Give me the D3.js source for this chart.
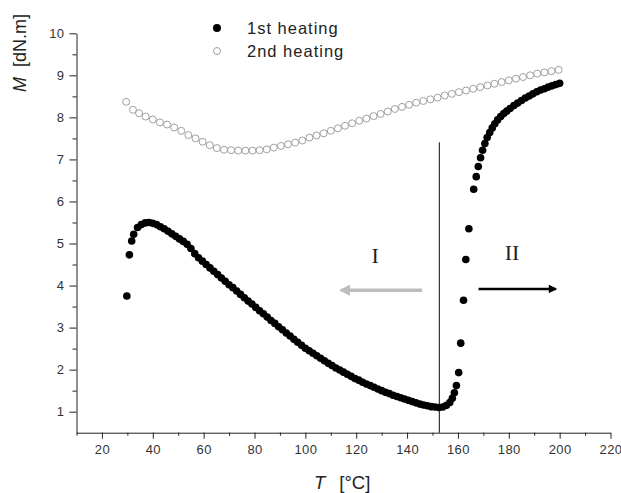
<!DOCTYPE html>
<html>
<head>
<meta charset="utf-8">
<script src="https://cdn.jsdelivr.net/npm/d3@7"></script>
<style>
  body { margin: 0; background: #fff; }
  svg { display: block; font-family: Arial, "Liberation Sans", sans-serif; }
  .axis path, .axis line { stroke: #222; }
  .axis text { fill: #333; font-size: 13px; letter-spacing: 0.4px; }
</style>
</head>
<body>
<div class="chart"></div>
<script>
// 1st heating (filled points), temperature in °C and torque in dN.m
var temp1 = [29.8, 30.8, 31.7, 32.5, 34, 35.5, 37, 38.5, 40, 41.5, 43, 44.5, 46, 47.5, 49, 50.5,
  52, 53.5, 55, 56.5, 58, 59.5, 61, 62.5, 64, 65.5, 67, 68.5, 70, 71.5, 73, 74.5, 76, 77.5,
  79, 80.5, 82, 83.5, 85, 86.5, 88, 89.5, 91, 92.5, 94, 95.5, 97, 98.5, 100, 101.5, 103,
  104.5, 106, 107.5, 109, 110.5, 112, 113.5, 115, 116.5, 118, 119.5, 121, 122.5, 124, 125.5,
  127, 128.5, 130, 131.5, 133, 134.5, 136, 137.5, 139, 140.5, 142, 143.5, 145, 146.5, 148,
  149.5, 151, 152.5, 154, 155.5, 156.8, 157.8, 158.6, 159.4, 160.3, 161.1, 162.2, 163.1,
  164.3, 166.2, 167.2, 168, 168.9, 169.7, 170.6, 171.5, 172.5, 173.5, 174.5, 175.6, 176.8,
  178, 179.2, 180.5, 182, 183.5, 185, 186.5, 188, 189.5, 191, 192.5, 194, 195.5, 197, 198.5, 200];
var torque1 = [3.75, 4.73, 5.06, 5.22, 5.38, 5.45, 5.49, 5.5, 5.48, 5.45, 5.4, 5.35, 5.29, 5.23, 5.17, 5.11,
  5.05, 4.98, 4.88, 4.76, 4.66, 4.58, 4.5, 4.42, 4.34, 4.26, 4.18, 4.1, 4.02, 3.95, 3.87, 3.79, 3.71, 3.63,
  3.56, 3.48, 3.4, 3.33, 3.25, 3.17, 3.1, 3.02, 2.95, 2.87, 2.8, 2.72, 2.65, 2.58, 2.51, 2.45, 2.39,
  2.33, 2.27, 2.21, 2.15, 2.1, 2.04, 1.99, 1.94, 1.89, 1.84, 1.79, 1.75, 1.7, 1.66, 1.62,
  1.58, 1.54, 1.5, 1.46, 1.43, 1.39, 1.36, 1.33, 1.3, 1.27, 1.24, 1.21, 1.18, 1.16, 1.14,
  1.12, 1.11, 1.1, 1.11, 1.15, 1.22, 1.32, 1.45, 1.62, 1.93, 2.63, 3.65, 4.62,
  5.35, 6.29, 6.59, 6.83, 7.04, 7.22, 7.38, 7.52, 7.64, 7.75, 7.85, 7.94, 8.02,
  8.09, 8.15, 8.21, 8.28, 8.34, 8.4, 8.46, 8.51, 8.56, 8.61, 8.65, 8.68, 8.72, 8.75, 8.78, 8.81];

// 2nd heating (open points)
var temp2 = [29.5, 32.2, 34.6, 37.2, 40, 42.8, 45.6, 48.4, 51.2, 54, 56.8, 59.6, 62.4, 65.2, 68,
  70.8, 73.6, 76.4, 79.2, 82, 84.8, 87.6, 90.4, 93.2, 96, 98.8, 101.6, 104.4, 107.2, 110,
  112.8, 115.6, 118.4, 121.2, 124, 126.8, 129.6, 132.4, 135.2, 138, 140.8, 143.6, 146.4,
  149.2, 152, 154.8, 157.6, 160.4, 163.2, 166, 168.8, 171.6, 174.4, 177.2, 180, 182.8,
  185.6, 188.4, 191.2, 194, 196.8, 199.6];
var torque2 = [8.37, 8.18, 8.1, 8.02, 7.95, 7.88, 7.83, 7.76, 7.68, 7.58, 7.5, 7.42, 7.34, 7.27, 7.23,
  7.22, 7.21, 7.21, 7.21, 7.22, 7.24, 7.28, 7.32, 7.36, 7.4, 7.45, 7.52, 7.57, 7.62, 7.68,
  7.74, 7.8, 7.86, 7.92, 7.97, 8.03, 8.08, 8.14, 8.2, 8.25, 8.3, 8.35, 8.39,
  8.43, 8.47, 8.52, 8.56, 8.6, 8.64, 8.68, 8.72, 8.76, 8.8, 8.84, 8.88, 8.92,
  8.96, 9.0, 9.04, 9.07, 9.1, 9.13];

var xTicks = [20, 40, 60, 80, 100, 120, 140, 160, 180, 200, 220];
var xMinor = [10, 30, 50, 70, 90, 110, 130, 150, 170, 190, 210];
var yTicks = [1, 2, 3, 4, 5, 6, 7, 8, 9, 10];
var yMinor = [1.5, 2.5, 3.5, 4.5, 5.5, 6.5, 7.5, 8.5, 9.5];

var seriesNames = ["1st heating", "2nd heating"];

// boundary between region I and II
var boundaryT = 152.7;
var boundaryTop = 7.41;
// arrows: [fromT, toT, M]
var arrowI = [145.9, 114.1, 3.89];
var arrowII = [168.1, 198.4, 3.92];
var regionLabels = [{text: "I", t: 127.5, m: 4.73}, {text: "II", t: 181.3, m: 4.8}];

var svgWidth = 621;
var svgHeight = 493;
var margin = {top: 33.3, right: 10.5, bottom: 60.3, left: 76.5};
var width = svgWidth - margin.left - margin.right;
var height = svgHeight - margin.top - margin.bottom;

var svg = d3.select(".chart")
  .append("svg")
  .attr("width", svgWidth)
  .attr("height", svgHeight);

var chartGroup = svg.append("g")
  .attr("transform", `translate(${margin.left}, ${margin.top})`);

var x = d3.scaleLinear().domain([10, 220]).range([0, width]);
var y = d3.scaleLinear().domain([0.5, 10]).range([height, 0]);

// axes
chartGroup.append("g")
  .attr("class", "axis")
  .attr("transform", `translate(0, ${height})`)
  .call(d3.axisBottom(x).tickValues(xTicks).tickSize(6).tickSizeOuter(0).tickPadding(6));
chartGroup.append("g")
  .attr("class", "axis")
  .attr("transform", `translate(0, ${height})`)
  .call(d3.axisBottom(x).tickValues(xMinor).tickSize(3).tickSizeOuter(0).tickFormat(""))
  .select(".domain").remove();

chartGroup.append("g")
  .attr("class", "axis")
  .call(d3.axisLeft(y).tickValues(yTicks).tickSize(7).tickSizeOuter(0).tickPadding(5));
chartGroup.append("g")
  .attr("class", "axis")
  .call(d3.axisLeft(y).tickValues(yMinor).tickSize(4).tickSizeOuter(0).tickFormat(""))
  .select(".domain").remove();

// boundary line
chartGroup.append("line")
  .attr("x1", x(boundaryT)).attr("x2", x(boundaryT))
  .attr("y1", y(0.5)).attr("y2", y(boundaryTop))
  .attr("stroke", "#333")
  .attr("stroke-width", 1.2);

// 2nd heating
var data2 = temp2.map((t, i) => ({t: t, m: torque2[i]}));
chartGroup.selectAll(".pt2")
  .data(data2)
  .enter()
  .append("circle")
  .attr("class", "pt2")
  .attr("cx", d => x(d.t))
  .attr("cy", d => y(d.m))
  .attr("r", 3.5)
  .attr("fill", "none")
  .attr("stroke", "#a0a0a0")
  .attr("stroke-width", 1);

// 1st heating
var data1 = temp1.map((t, i) => ({t: t, m: torque1[i]}));
chartGroup.selectAll(".pt1")
  .data(data1)
  .enter()
  .append("circle")
  .attr("class", "pt1")
  .attr("cx", d => x(d.t))
  .attr("cy", d => y(d.m))
  .attr("r", 3.8)
  .attr("fill", "#000");

// arrows
var defs = svg.append("defs");
defs.append("marker")
  .attr("id", "headGray")
  .attr("viewBox", "0 0 10 10")
  .attr("refX", 8).attr("refY", 5)
  .attr("markerWidth", 3.2).attr("markerHeight", 3.2)
  .attr("orient", "auto")
  .append("path").attr("d", "M0,0L10,5L0,10z").attr("fill", "#bdbdbd");
defs.append("marker")
  .attr("id", "headBlack")
  .attr("viewBox", "0 0 10 10")
  .attr("refX", 8).attr("refY", 5)
  .attr("markerWidth", 4).attr("markerHeight", 3.4)
  .attr("orient", "auto")
  .append("path").attr("d", "M0,0L10,5L0,10z").attr("fill", "#000");

chartGroup.append("line")
  .attr("x1", x(arrowI[0])).attr("x2", x(arrowI[1]))
  .attr("y1", y(arrowI[2])).attr("y2", y(arrowI[2]))
  .attr("stroke", "#bdbdbd")
  .attr("stroke-width", 3.5)
  .attr("marker-end", "url(#headGray)");
chartGroup.append("line")
  .attr("x1", x(arrowII[0])).attr("x2", x(arrowII[1]))
  .attr("y1", y(arrowII[2])).attr("y2", y(arrowII[2]))
  .attr("stroke", "#000")
  .attr("stroke-width", 2.5)
  .attr("marker-end", "url(#headBlack)");

chartGroup.selectAll(".region")
  .data(regionLabels)
  .enter()
  .append("text")
  .attr("class", "region")
  .attr("x", d => x(d.t))
  .attr("y", d => y(d.m))
  .attr("dy", "0.35em")
  .attr("text-anchor", "middle")
  .attr("font-family", "'Liberation Serif', 'DejaVu Serif', serif")
  .attr("font-size", 22)
  .attr("fill", "#222")
  .text(d => d.text);

// legend
var legend = svg.append("g").attr("transform", "translate(217, 28)");
seriesNames.forEach(function(name, i) {
  var row = legend.append("g").attr("transform", `translate(0, ${i * 23})`);
  if (i === 0) {
    row.append("circle").attr("r", 4).attr("fill", "#000");
  } else {
    row.append("circle").attr("r", 3.5).attr("fill", "none")
      .attr("stroke", "#a0a0a0").attr("stroke-width", 1);
  }
  row.append("text")
    .attr("x", 30)
    .attr("dy", "0.35em")
    .attr("font-size", 16.5)
    .attr("letter-spacing", "1px")
    .attr("fill", "#222")
    .text(name);
});

// axis titles
var xTitle = svg.append("text")
  .attr("x", 314)
  .attr("y", 489)
  .attr("font-size", 18.5)
  .attr("fill", "#222");
xTitle.append("tspan").attr("font-style", "italic").text("T");
xTitle.append("tspan").attr("dx", 14).text("[°C]");

var yTitle = svg.append("text")
  .attr("transform", "translate(26, 92) rotate(-90)")
  .attr("font-size", 18)
  .attr("fill", "#222");
yTitle.append("tspan").attr("font-style", "italic").text("M");
yTitle.append("tspan").attr("dx", 10).text("[dN.m]");
</script>
</body>
</html>
